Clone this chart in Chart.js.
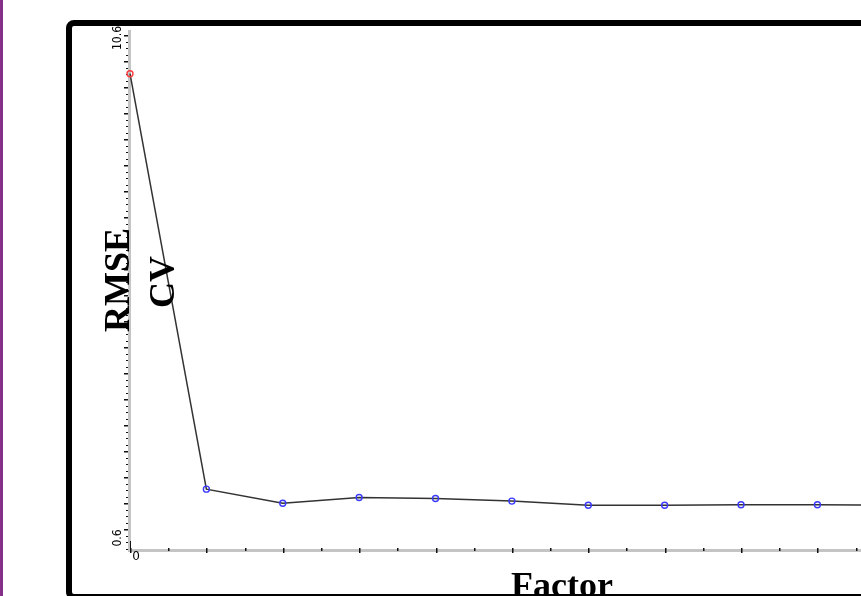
<!DOCTYPE html>
<html>
<head>
<meta charset="utf-8">
<script src="https://cdn.jsdelivr.net/npm/chart.js@4"></script>
<style>
  html, body { margin: 0; padding: 0; background: #ffffff; }
  #wrap { width: 861px; height: 596px; position: relative; overflow: hidden; }
  canvas { display: block; }
</style>
</head>
<body>
<div id="wrap"><canvas id="c" width="861" height="596"></canvas></div>
<script>
// ---- data ----
const factors = [0, 1, 2, 3, 4, 5, 6, 7, 8, 9, 10];
const rmsecv  = [9.76, 1.77, 1.50, 1.61, 1.59, 1.54, 1.46, 1.46, 1.47, 1.47, 1.46];
const yTickLabels = ['10.6', '0.6'];
const xTickLabels = ['0'];
const yLabelLines = ['RMSE', 'CV'];
const xLabel = 'Factor';

const points = factors.map((f, i) => ({ x: f, y: rmsecv[i] }));
const markerColors = factors.map((f, i) => i === 0 ? '#ff3b3b' : '#3a3aff');

const decor = {
  id: 'decor',
  beforeDatasetsDraw(chart) {
    const ctx = chart.ctx;
    const xs = chart.scales.x, ys = chart.scales.y;
    const x0 = xs.getPixelForValue(0);
    const yTop = ys.getPixelForValue(ys.max);
    const yBot = ys.getPixelForValue(ys.min);
    ctx.save();
    // purple strip on the far left
    ctx.fillStyle = '#86308a';
    ctx.fillRect(0, 0, 3, 596);
    // black rounded frame
    ctx.strokeStyle = '#000000';
    ctx.lineWidth = 6;
    ctx.beginPath();
    ctx.roundRect(69, 23, 860, 574, 5);
    ctx.stroke();
    // gray axis lines
    ctx.fillStyle = '#c4c4c4';
    ctx.fillRect(x0 - 2, yTop, 3, yBot - yTop + 1);
    ctx.fillRect(x0 - 2, yBot - 1, chart.width, 3);
    // y ticks: majors every 0.5, minors every 0.125
    ctx.fillStyle = '#111111';
    for (let k = Math.ceil(ys.min * 8); k <= Math.floor(ys.max * 8); k++) {
      const v = k / 8;
      const py = Math.round(ys.getPixelForValue(v));
      const major = (k % 4 === 0);
      const len = major ? 4 : 2;
      ctx.fillRect(x0 - 2 - len, py, len, major ? 1.5 : 1);
    }
    // x ticks every 0.5
    for (let k = 0; k <= Math.floor(xs.max * 2); k++) {
      const v = k / 2;
      const px = Math.round(xs.getPixelForValue(v));
      const major = (k % 2 === 0);
      ctx.fillRect(px, yBot - 2, 1.5, major ? 5 : 3);
    }
    ctx.fillRect(x0, yBot - 9, 1, 8);
    ctx.restore();
  },
  afterDraw(chart) {
    const ctx = chart.ctx;
    const xs = chart.scales.x, ys = chart.scales.y;
    const x0 = xs.getPixelForValue(0);
    const yTop = ys.getPixelForValue(ys.max);
    const yBot = ys.getPixelForValue(ys.min);
    ctx.save();
    ctx.fillStyle = '#000000';
    // tick labels on y (rotated)
    ctx.font = '12px "DejaVu Sans Condensed", "DejaVu Sans", sans-serif';
    ctx.textAlign = 'center';
    ctx.textBaseline = 'middle';
    [[yTickLabels[0], yTop + 8], [yTickLabels[1], yBot - 12]].forEach(([t, py]) => {
      ctx.save();
      ctx.translate(x0 - 12, py);
      ctx.rotate(-Math.PI / 2);
      ctx.fillText(t, 0, 0);
      ctx.restore();
    });
    // x tick label
    ctx.font = '12px "DejaVu Sans", sans-serif';
    ctx.fillText(xTickLabels[0], x0 + 6, yBot + 7);
    // y axis title (two rotated lines)
    ctx.font = 'bold 36px "Liberation Serif", "Times New Roman", serif';
    ctx.textBaseline = 'alphabetic';
    const titlePos = [[129, 280], [174, 282]];
    yLabelLines.forEach((t, i) => {
      ctx.save();
      ctx.translate(titlePos[i][0], titlePos[i][1]);
      ctx.rotate(-Math.PI / 2);
      ctx.fillText(t, 0, 0);
      ctx.restore();
    });
    // x axis title (cut at bottom edge)
    ctx.fillText(xLabel, 562, 597);
    ctx.restore();
  }
};

new Chart(document.getElementById('c'), {
  type: 'line',
  data: {
    datasets: [{
      data: points,
      borderColor: '#333333',
      borderWidth: 1.5,
      tension: 0,
      pointStyle: 'circle',
      pointRadius: 3,
      pointBorderWidth: 1.4,
      pointBackgroundColor: 'rgba(0,0,0,0)',
      pointBorderColor: markerColors,
      clip: false
    }]
  },
  options: {
    responsive: false,
    devicePixelRatio: 1,
    animation: false,
    events: [],
    layout: { padding: { left: 130, right: 0, top: 30, bottom: 46 } },
    plugins: { legend: { display: false }, tooltip: { enabled: false }, title: { display: false } },
    scales: {
      x: { type: 'linear', min: 0, max: 9.5, display: false },
      y: { type: 'linear', min: 0.6, max: 10.6, display: false }
    }
  },
  plugins: [decor]
});
</script>
</body>
</html>
